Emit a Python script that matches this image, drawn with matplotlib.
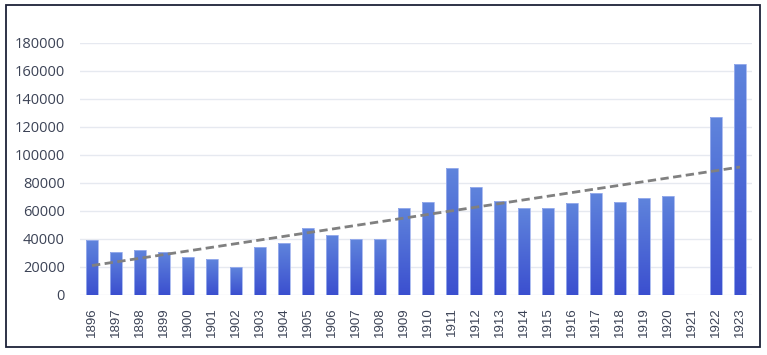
import matplotlib.pyplot as plt
import numpy as np
from matplotlib.colors import LinearSegmentedColormap
from matplotlib.patches import Rectangle

years = [str(y) for y in range(1896, 1924)]
values = [
    39000, 31000, 32000, 31000, 27500, 25500, 20000, 34000, 37000, 48000,
    43000, 40000, 40000, 62500, 66500, 90500, 77500, 67500, 62000, 62500,
    65500, 73000, 66500, 69500, 71000, np.nan, 127000, 165000,
]
y_ticks = [0, 20000, 40000, 60000, 80000, 100000, 120000, 140000, 160000, 180000]

fig = plt.figure(figsize=(7.67, 3.55), dpi=100)
fig.patches.append(
    Rectangle((6 / 767, 8 / 355), 754 / 767, 342 / 355, transform=fig.transFigure,
              fill=False, edgecolor="#1c2238", linewidth=1.3)
)

ax = fig.add_axes([80 / 767, 60 / 355, 672 / 767, 252 / 355])
x = np.arange(len(years))
vals = np.array(values, dtype=float)

bars = ax.bar(x, np.nan_to_num(vals), width=0.48, facecolor="none",
              edgecolor="#9fb2ee", linewidth=0.6, zorder=3)

grad = LinearSegmentedColormap.from_list("g", ["#3b4fcf", "#5f84dc"])
img = np.linspace(0, 1, 256).reshape(-1, 1)
for b in bars:
    h = b.get_height()
    if h <= 0:
        continue
    im = ax.imshow(img, cmap=grad, origin="lower", aspect="auto",
                   extent=(b.get_x(), b.get_x() + b.get_width(), 0, h), zorder=2)
    im.set_clip_path(b)

# linear trendline (blank year counted as zero, like the spreadsheet does)
coef = np.polyfit(x, np.nan_to_num(vals), 1)
ax.plot(x, np.polyval(coef, x), color="#808080", linestyle=(0, (3, 1.6)),
        linewidth=2, zorder=4)

ax.set_xlim(-0.5, len(years) - 0.5)
ax.set_ylim(0, 180000)
ax.set_yticks(y_ticks)
ax.set_yticklabels([str(t) for t in y_ticks], fontsize=10.5,
                   fontfamily="Open Sans", color="#3c4356")
ax.set_xticks(x)
ax.set_xticklabels(years, rotation=90, fontsize=9.5,
                   fontfamily="Liberation Sans", color="#3c4356")
ax.tick_params(length=0)
ax.tick_params(axis="x", pad=9)
ax.tick_params(axis="y", pad=11)
ax.yaxis.grid(True, color="#e6e9f0", linewidth=1)
ax.set_axisbelow(True)
for s in ax.spines.values():
    s.set_visible(False)

fig.savefig("out.png", dpi=100)
